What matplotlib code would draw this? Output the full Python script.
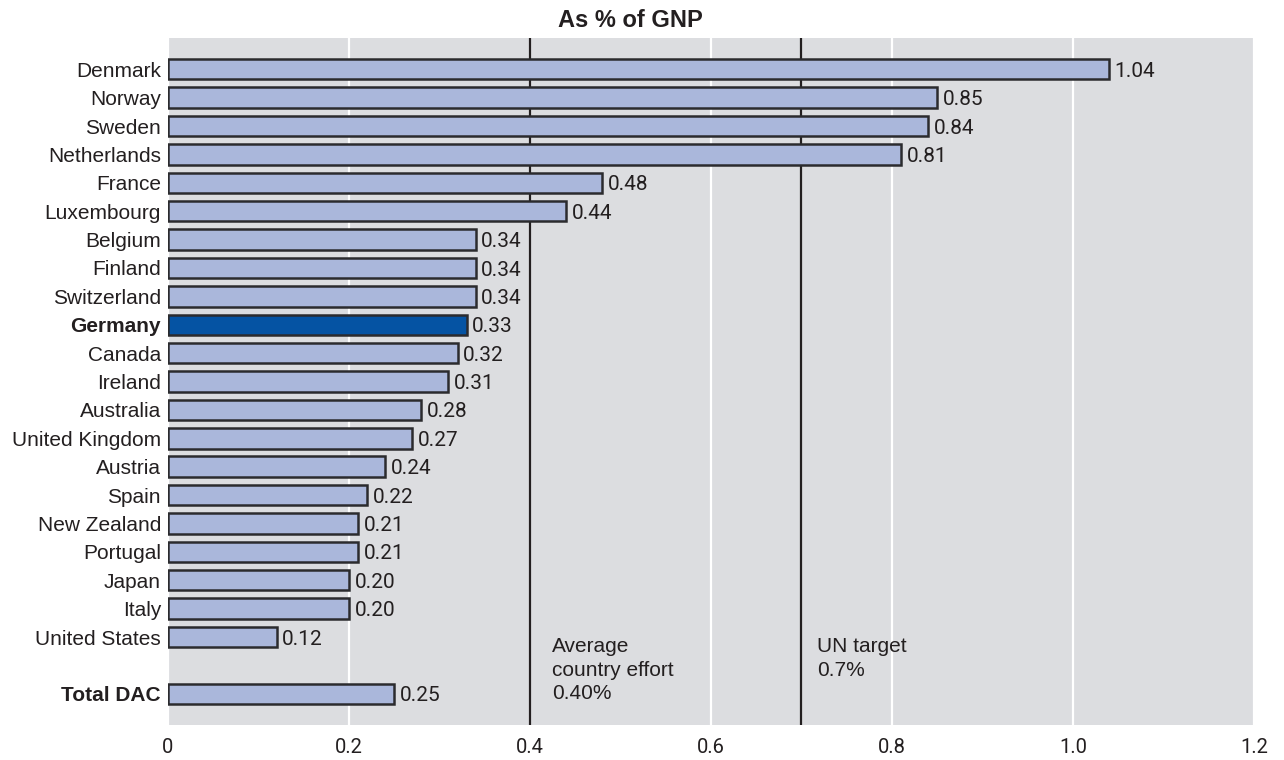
import numpy as np
import matplotlib.pyplot as plt

plt.rcParams['font.family'] = ['Liberation Sans', 'DejaVu Sans']

countries = ["Denmark", "Norway", "Sweden", "Netherlands", "France", "Luxembourg",
             "Belgium", "Finland", "Switzerland", "Germany", "Canada", "Ireland",
             "Australia", "United Kingdom", "Austria", "Spain", "New Zealand",
             "Portugal", "Japan", "Italy", "United States"]
oda_gnp = [1.04, 0.85, 0.84, 0.81, 0.48, 0.44, 0.34, 0.34, 0.34, 0.33, 0.32, 0.31,
           0.28, 0.27, 0.24, 0.22, 0.21, 0.21, 0.20, 0.20, 0.12]
total_label = "Total DAC"
total_value = 0.25
average_effort = 0.40
un_target = 0.7
x_ticks = [0, 0.2, 0.4, 0.6, 0.8, 1.0, 1.2]
x_tick_labels = ["0", "0.2", "0.4", "0.6", "0.8", "1.0", "1.2"]

bar_color = "#aab7db"
highlight = "#0553a3"
edge = "#2b2b2e"
ink = "#231f20"
num_font = ['Roboto', 'DejaVu Sans']

labels = countries + [total_label]
values = oda_gnp + [total_value]
ypos = list(range(len(countries))) + [len(countries) + 1]
colors = [highlight if c == "Germany" else bar_color for c in labels]

fig = plt.figure(figsize=(12.84, 7.6), dpi=100)
ax = fig.add_axes([0.1308, 0.046, 0.8458, 0.904])
ax.set_facecolor("#dcdde0")

ax.barh(ypos, values, height=0.72, color=colors, edgecolor=edge, linewidth=1.8, zorder=3)

# value labels just past the end of each bar
for y, v in zip(ypos, values):
    ax.annotate(f"{v:.2f}", (v, y), xytext=(4, -1.5), textcoords="offset points",
                va="center", ha="left", fontsize=15, color=ink, family=num_font, zorder=4)

ax.axvline(average_effort, color=ink, linewidth=1.6, zorder=2)
ax.axvline(un_target, color=ink, linewidth=1.6, zorder=2)
ax.text(average_effort + 0.024, 20.0, "Average\ncountry effort\n0.40%",
        va="top", ha="left", fontsize=15, color=ink, linespacing=1.3)
ax.text(un_target + 0.017, 20.0, "UN target\n0.7%",
        va="top", ha="left", fontsize=15, color=ink, linespacing=1.3)

ax.set_xlim(0, 1.2)
ax.set_ylim(len(countries) + 2.1, -1.1)
ax.set_xticks(x_ticks)
ax.set_xticklabels(x_tick_labels, fontsize=14.5, color=ink, family=num_font)
ax.set_yticks(ypos)
ax.set_yticklabels(labels, fontsize=15, color=ink)
for t in ax.get_yticklabels():
    if t.get_text() in ("Germany", total_label):
        t.set_fontweight("bold")
ax.tick_params(length=0, axis="y", pad=5)
ax.tick_params(length=0, axis="x", pad=9)
ax.grid(axis="x", color="white", linewidth=1.6, zorder=1)
ax.set_axisbelow(True)
for s in ax.spines.values():
    s.set_visible(False)

fig.text(0.491, 1 - 27 / 760, "As % of GNP", fontsize=17, fontweight="bold",
         color=ink, ha="center", va="baseline")

fig.savefig("out.png", dpi=100)
